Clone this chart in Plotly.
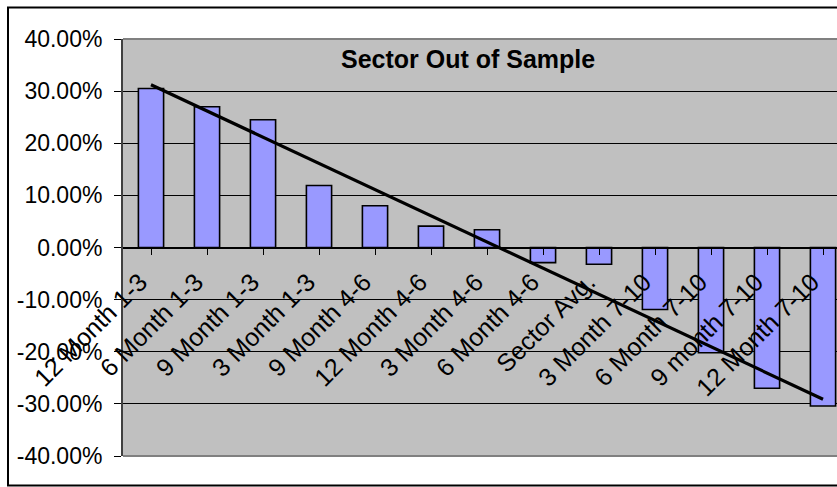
import numpy as np
import plotly.graph_objects as go

# Category labels and returns (as fractions)
categories = [
    "12 Month 1-3", "6 Month 1-3", "9 Month 1-3", "3 Month 1-3",
    "9 Month 4-6", "12 Month 4-6", "3 Month 4-6", "6 Month 4-6",
    "Sector Avg.", "3 Month 7-10", "6 Month 7-10", "9 month 7-10",
    "12 Month 7-10",
]
returns = [0.305, 0.270, 0.245, 0.119, 0.080, 0.041, 0.034,
           -0.029, -0.032, -0.119, -0.202, -0.270, -0.304]
y_ticks = [0.40, 0.30, 0.20, 0.10, 0.0, -0.10, -0.20, -0.30, -0.40]
title_text = "Sector Out of Sample"

W, H = 837, 487
L, R, T, B = 123, 0, 39, 31
plot_w = W - L - R
plot_h = H - T - B

FONT = "Arial, Liberation Sans, sans-serif"

# linear trendline over category positions
xpos = np.arange(len(returns))
slope, intercept = np.polyfit(xpos, returns, 1)
trend_y = intercept + slope * xpos[[0, -1]]

fig = go.Figure()
fig.add_trace(go.Bar(
    x=xpos, y=returns,
    marker=dict(color="#9999FF", line=dict(color="black", width=1.6)),
    width=0.45,
    showlegend=False, hoverinfo="skip",
))
fig.add_trace(go.Scatter(
    x=xpos[[0, -1]], y=trend_y, mode="lines",
    line=dict(color="black", width=3.2),
    showlegend=False, hoverinfo="skip",
))

def px_x(px):
    return (px - L) / plot_w

def px_y(py):
    return (H - B - py) / plot_h

shapes = [
    # outer chart frame (right edge runs past the page)
    dict(type="rect", xref="paper", yref="paper",
         x0=px_x(8), x1=px_x(W + 20), y0=px_y(485.5), y1=px_y(7.5),
         line=dict(color="black", width=2), layer="above"),
    # plot-area top and bottom edges
    dict(type="line", xref="paper", yref="paper",
         x0=0, x1=1.05, y0=1, y1=1,
         line=dict(color="#808080", width=2), layer="above"),
    dict(type="line", xref="paper", yref="paper",
         x0=0, x1=1.05, y0=0, y1=0,
         line=dict(color="#808080", width=2), layer="above"),
]

fig.update_layout(
    width=W, height=H,
    margin=dict(l=L, r=R, t=T, b=B, pad=0),
    paper_bgcolor="white",
    plot_bgcolor="#C0C0C0",
    font=dict(family=FONT, size=23, color="black"),
    shapes=shapes,
    annotations=[dict(
        text="<b>" + title_text + "</b>",
        xref="paper", yref="paper",
        x=px_x(468), y=px_y(59),
        xanchor="center", yanchor="middle",
        showarrow=False, font=dict(family=FONT, size=25, color="black"),
    )],
)

fig.update_xaxes(
    range=[-0.5, 12.5 - 14 / 56],
    tickmode="array", tickvals=list(xpos), ticktext=categories,
    tickangle=-45,
    tickson="boundaries",
    ticks="outside", ticklen=6, tickcolor="black", tickwidth=1,
    ticklabelstandoff=3, ticklabelshift=-11,
    showline=True, linecolor="black", linewidth=1,
    showgrid=False, zeroline=False,
    anchor="free", position=0.5,
    tickfont=dict(family=FONT, size=25, color="black"),
)
fig.update_yaxes(
    range=[-0.40, 0.40],
    tickmode="array", tickvals=y_ticks,
    ticktext=[f"{v * 100:.2f}%" for v in y_ticks],
    ticks="outside", ticklen=7, tickcolor="black", tickwidth=1,
    ticklabelstandoff=7,
    showline=True, linecolor="#404040", linewidth=2,
    showgrid=True, gridcolor="black", gridwidth=1,
    zeroline=False,
    tickfont=dict(family=FONT, size=23, color="black"),
)

fig.write_html("out.html")
